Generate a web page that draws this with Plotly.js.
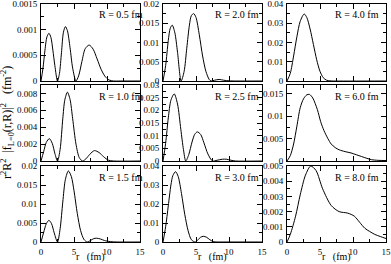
<!DOCTYPE html>
<html><head><meta charset="utf-8">
<script src="https://cdn.plot.ly/plotly-3.0.1.min.js"></script>
<style>html,body{margin:0;padding:0;background:#fff}#g{width:391px;height:264px}</style>
</head><body><div id="g"></div>
<script>
// R = 0.5 fm
const r05 = [0,0.3,0.6,0.9,1.2,1.5,1.8,2.1,2.5,2.8,3.1,3.4,3.7,4.0,4.4,4.8,5.3,5.7,6.2,6.7,7.3,7.9,8.5,9.1,9.7,10.3,11,12,15];
const v05 = [0,0.00025,0.0006,0.00086,0.00093,0.00085,0.0006,0.0003,0,0.00015,0.00055,0.00095,0.00106,0.00098,0.00065,0.00025,0,0.0001,0.00038,0.00063,0.0007,0.00062,0.00043,0.00023,0.00009,0.00002,0,0,0];
// R = 2.0 fm
const r20 = [0,0.4,0.8,1.1,1.4,1.8,2.2,2.75,3.2,3.6,4.0,4.3,4.65,5.0,5.5,6.0,6.5,7.0,7.3,7.8,8.5,9.2,10,11,15];
const v20 = [0,0.004,0.0105,0.0137,0.0145,0.0125,0.0075,0,0.0025,0.0085,0.0145,0.017,0.0175,0.0165,0.012,0.0065,0.0025,0.0004,0,0.0002,0.0004,0.0002,0.00005,0,0];
// R = 4.0 fm
const r40 = [0,0.5,1.0,1.5,2.0,2.6,3.0,3.5,4.0,4.5,5.0,5.5,6.0,6.5,7,15];
const v40 = [0,0.004,0.013,0.023,0.031,0.0348,0.033,0.027,0.019,0.011,0.005,0.0017,0.0004,0.0001,0,0];
// R = 1.0 fm
const r10 = [0,0.4,0.8,1.26,1.7,2.1,2.5,2.9,3.3,3.6,4.0,4.4,4.8,5.3,5.8,6.3,6.8,7.4,8.1,8.8,9.5,10.2,11,15];
const v10 = [0,0.0011,0.0022,0.00265,0.0021,0.0009,0,0.0014,0.005,0.0072,0.00815,0.0073,0.005,0.002,0.0004,0,0.00025,0.0008,0.00123,0.001,0.0005,0.0001,0,0];
// R = 2.5 fm
const r25 = [0,0.4,0.8,1.2,1.7,2.2,2.7,3.1,3.45,3.9,4.4,4.8,5.2,5.7,6.2,6.8,7.5,8.2,9.0,9.6,10.3,11,15];
const v25 = [0,0.007,0.017,0.024,0.0265,0.0225,0.0125,0.0045,0,0.0025,0.0075,0.0105,0.0115,0.0105,0.0072,0.0028,0,0.0003,0.0007,0.0007,0.0003,0,0];
// R = 6.0 fm
const r60 = [0,0.5,1.0,1.5,2.0,2.5,3.0,3.4,3.9,4.6,5.1,5.6,6.2,6.7,7.3,7.9,8.8,9.7,10.5,11.3,12.1,12.8,13.8,15];
const v60 = [0,0.0012,0.0038,0.0078,0.0119,0.0139,0.0148,0.0149,0.0141,0.0115,0.0088,0.0068,0.005,0.0038,0.003,0.0025,0.0021,0.0018,0.0014,0.001,0.0006,0.0003,0.00015,0.0001];
// R = 1.5 fm
const r15 = [0,0.4,0.8,1.2,1.6,2.0,2.5,2.9,3.3,3.7,4.15,4.6,5.0,5.5,6.0,6.5,7.0,7.5,8.0,8.4,9.0,9.6,10.5,11.5,15];
const v15 = [0,0.0025,0.0048,0.0057,0.0048,0.0024,0,0.0035,0.0105,0.0165,0.0187,0.0172,0.0135,0.0075,0.003,0.0007,0,0.0004,0.0009,0.001,0.0008,0.0004,0.0001,0,0];
// R = 3.0 fm
const r30 = [0,0.4,0.8,1.2,1.5,1.9,2.3,2.8,3.3,3.8,4.3,4.9,5.3,5.7,6.1,6.6,7.1,7.6,8.2,9,15];
const v30 = [0,0.008,0.019,0.03,0.035,0.037,0.0345,0.0255,0.0145,0.006,0.0012,0,0.0012,0.0025,0.003,0.0025,0.0012,0.0002,0,0,0];
// R = 8.0 fm
const r80 = [0,0.5,1.3,2.0,2.8,3.6,4.4,5.4,6.7,7.9,9.2,10.2,11.0,11.8,12.5,13.3,14.2,15];
const v80 = [0,0.0005,0.0017,0.0031,0.0044,0.005,0.0047,0.0035,0.0024,0.002,0.0019,0.0017,0.0013,0.0009,0.0007,0.0005,0.00035,0.00023];

const panelLabels = ['R = 0.5 fm','R = 2.0 fm','R = 4.0 fm','R = 1.0 fm','R = 2.5 fm','R = 6.0 fm','R = 1.5 fm','R = 3.0 fm','R = 8.0 fm'];
const yMax = [0.0015,0.02,0.04,0.009,0.03,0.017,0.02,0.04,0.005];
// tick labels per panel
const yTick05 = ['0','0.0005','0.001','0.0015'];
const yTick20 = ['0','0.005','0.01','0.015','0.02'];
const yTick40 = ['0','0.01','0.02','0.03','0.04'];
const yTick10 = ['0','0.002','0.004','0.006','0.008'];
const yTick25 = ['0','0.005','0.01','0.015','0.02','0.025','0.03'];
const yTick60 = ['0','0.005','0.01','0.015'];
const yTick15 = ['0','0.005','0.01','0.015','0.02'];
const yTick30 = ['0','0.01','0.02','0.03','0.04'];
const yTick80 = ['0','0.001','0.002','0.003','0.004','0.005'];
const yMinorStep = [0.00025,0.0025,0.005,0.001,0.0025,0.0025,0.0025,0.005,0.0005];
const xTicks = [0,5,10,15];
const xLabel = 'r   (fm)';
const yTitle = 'r<sup>2</sup>R<sup>2</sup>  |f<sub>L=0</sub>(r,R)|<sup>2</sup>   (fm<sup>-2</sup>)';

const xs = [r05,r20,r40,r10,r25,r60,r15,r30,r80];
const ys = [v05,v20,v40,v10,v25,v60,v15,v30,v80];
const yTicks = [yTick05,yTick20,yTick40,yTick10,yTick25,yTick60,yTick15,yTick30,yTick80];

const W = 391, H = 264;
const colPx = [[41,140],[163,262],[287,386]];
const rowPx = [[4,81],[85,161],[166,242]];
const font = {family:'"Liberation Serif", "Times New Roman", serif', size:9, color:'#000'};

const traces = [];
const layout = {width:W, height:H, margin:{l:0,r:0,t:0,b:0}, showlegend:false,
  paper_bgcolor:'#fff', plot_bgcolor:'#fff', font:font, annotations:[]};

for (let i=0;i<9;i++){
  const row = Math.floor(i/3), col = i%3;
  const sx = i===0?'':String(i+1);
  traces.push({x:xs[i], y:ys[i], xaxis:'x'+sx, yaxis:'y'+sx, type:'scatter', mode:'lines',
    line:{color:'#000', width:1, shape:'spline', smoothing:0.8}, hoverinfo:'skip', cliponaxis:true});
  const common = {showline:true, linecolor:'#000', linewidth:1, mirror:'allticks', ticks:'inside',
    ticklen:5, tickwidth:1, tickcolor:'#000', showgrid:false, zeroline:false, tickfont:font,
    ticklabeloverflow:'allow'};
  layout['xaxis'+sx] = Object.assign({}, common, {
    domain:[colPx[col][0]/W, colPx[col][1]/W], range:[0,15], anchor:'y'+sx,
    tickmode:'array', tickvals:xTicks, ticktext:xTicks.map(String), showticklabels: row===2, ticklabelstandoff:1,
    minor:{dtick:2.5, tick0:0, ticks:'inside', ticklen:3, tickcolor:'#000', showgrid:false}});
  layout['yaxis'+sx] = Object.assign({}, common, {
    domain:[1-rowPx[row][1]/H, 1-rowPx[row][0]/H], range:[0,yMax[i]], anchor:'x'+sx,
    tickmode:'array', tickvals:yTicks[i].map(Number), ticktext:yTicks[i], ticklabelstandoff:1,
    minor:{dtick:yMinorStep[i], tick0:0, ticks:'inside', ticklen:3, tickcolor:'#000', showgrid:false}});
  layout.annotations.push({text:panelLabels[i], xref:'paper', yref:'paper', showarrow:false,
    x:(colPx[col][0]+(col===0?56:(col===1?50:46)))/W, xanchor:'left',
    y:1-(rowPx[row][0]+11)/H, yanchor:'middle', font:Object.assign({},font,{size:10})});
}
for (let c=0;c<3;c++){
  layout.annotations.push({text:xLabel, xref:'paper', yref:'paper', showarrow:false,
    x:(colPx[c][0]+colPx[c][1])/2/W, xanchor:'center', y:(H-257)/H, yanchor:'middle',
    font:Object.assign({},font,{size:10})});
}
layout.annotations.push({text:yTitle, xref:'paper', yref:'paper', showarrow:false, textangle:-90,
  x:8/W, xanchor:'center', y:1-123/H, yanchor:'middle', font:Object.assign({},font,{size:12})});

Plotly.newPlot('g', traces, layout, {staticPlot:true, displayModeBar:false});
</script></body></html>
